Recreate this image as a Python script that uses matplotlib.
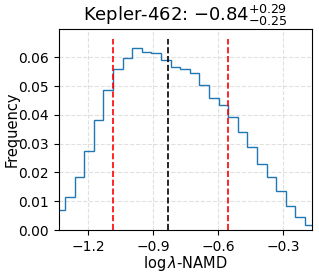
import numpy as np
import matplotlib
matplotlib.use("Agg")
import matplotlib.pyplot as plt

# Histogram data (normalized frequencies per bin)
freq = [0.0068, 0.0115, 0.0185, 0.0273, 0.0382, 0.0487, 0.0561, 0.0597, 0.0632,
        0.0617, 0.0615, 0.0589, 0.0568, 0.0561, 0.0546, 0.0503, 0.0458, 0.0434,
        0.0394, 0.0339, 0.0287, 0.0231, 0.0185, 0.0137, 0.0083, 0.0044, 0.0017]
bin_start = -1.3528
bin_width = 0.0443
median = -0.835
lower = -1.086
upper = -0.558
xlim = (-1.3375, -0.167)
xticks = [-1.2, -0.9, -0.6, -0.3]
yticks = [0.00, 0.01, 0.02, 0.03, 0.04, 0.05, 0.06]
title = r"Kepler-462: $-0.84^{+0.29}_{-0.25}$"

edges = bin_start + bin_width * np.arange(len(freq) + 1)
centers = 0.5 * (edges[:-1] + edges[1:])

fig = plt.figure(figsize=(3.19, 2.75), dpi=100)
ax = fig.add_axes([0.184, 0.1636, 0.795, 0.731])
ax.hist(centers, bins=edges, weights=freq, histtype="step", color="#1f77b4", lw=1.0)
ymax = max(freq)
ax.vlines([lower, upper], 0, ymax * 1.05, colors="red", linestyles="--", lw=1.2)
ax.vlines([median], 0, ymax * 1.05, colors="black", linestyles="--", lw=1.2)
ax.set_xlim(*xlim)
ax.set_ylim(0, ymax * 1.105)
ax.set_xticks(xticks)
ax.set_xticklabels([f"{t:.1f}".replace("-", "\u2212") for t in xticks])
ax.set_yticks(yticks)
ax.set_yticklabels([f"{t:.2f}" for t in yticks])
ax.tick_params(labelsize=10, length=3.5)
ax.grid(True, ls="--", color="#cccccc", alpha=0.6, lw=0.8)
ax.set_axisbelow(True)
ax.set_xlabel(r"$\log\lambda$-NAMD", fontsize=10.5, labelpad=0)
ax.set_ylabel("Frequency", fontsize=10.5)
ax.yaxis.set_label_coords(-0.156, 0.5)
ax.set_title(title, fontsize=13)
fig.savefig("out.png", dpi=100)
